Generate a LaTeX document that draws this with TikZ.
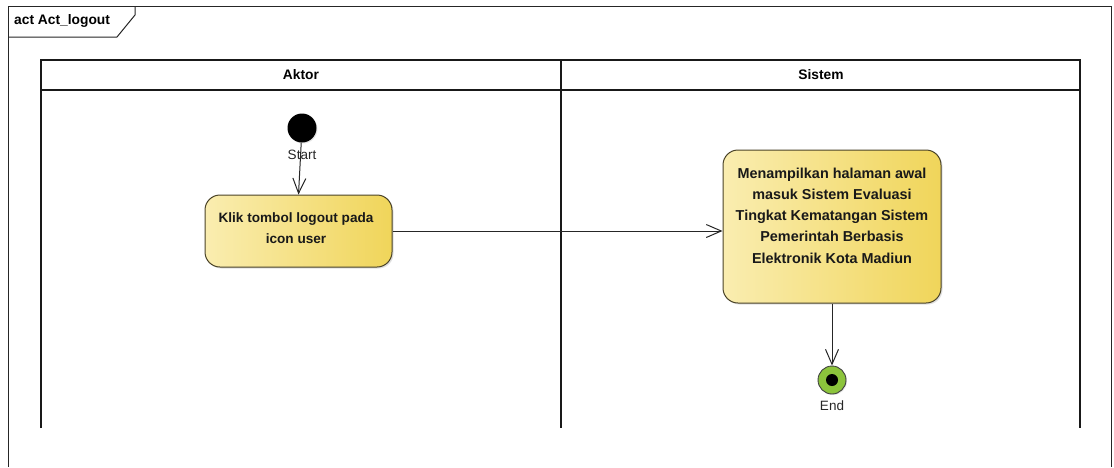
\documentclass[tikz,border=0pt]{standalone}
\usepackage{fontspec}
\setmainfont{Liberation Sans}
\usetikzlibrary{arrows.meta,shadows}
\definecolor{actlight}{HTML}{FAEDB0}
\definecolor{actdark}{HTML}{F0D55A}
\definecolor{actborder}{HTML}{4A4328}
\definecolor{endgreen}{HTML}{8CC43C}
\tikzset{
  frame/.style={draw=black!85, line width=1pt},
  lane/.style={draw=black!90, line width=1.4pt},
  action/.style={draw=actborder, line width=1pt, rounded corners=15pt,
    left color=actlight, right color=actdark,
    drop shadow={shadow xshift=1.5pt, shadow yshift=-1.5pt, opacity=0.25}},
  acttext/.style={font=\bfseries\fontsize{13.6}{21}\selectfont, align=center, text=black!90},
  flow/.style={draw=black!85, line width=1pt, -{Straight Barb[length=15pt,width=13pt,line width=1pt]}},
  lbl/.style={font=\fontsize{13.5}{15}\selectfont, text=black!85},
  hdr/.style={font=\bfseries\fontsize{13.8}{15}\selectfont}
}
\begin{document}
\begin{tikzpicture}[x=1pt,y=-1pt]
\useasboundingbox[fill=white] (0,0) rectangle (1114,467);

% diagram frame with its name tab
\draw[frame] (8,467) -- (8,6) -- (1111,6) -- (1111,467);
\draw[frame] (8,37) -- (117,37) -- (135,15) -- (135,6);
\node[anchor=west, font=\bfseries\fontsize{13.8}{15}\selectfont, inner sep=0pt] (title) at (14,21) {act Act\_logout};

% swimlanes
\draw[lane] (41,428) -- (41,60) -- (1080,60) -- (1080,428);
\draw[lane] (41,90) -- (1080,90);
\draw[lane] (561,60) -- (561,428);
\node[hdr] (aktor) at (301,75) {Aktor};
\node[hdr] (sistem) at (821,75) {Sistem};

% start node
\node[circle, fill=black, minimum size=29pt, inner sep=0pt,
  drop shadow={shadow xshift=1pt, shadow yshift=-1pt, opacity=0.2}] (start) at (302,128) {};
\node[lbl] (startlbl) at (302,155) {Start};

% actions
\node[action, minimum width=187pt, minimum height=72pt] (klik) at (298.5,231) {};
\node[acttext] (kliktext) at (296,228) {Klik tombol logout pada\\icon user};

\node[action, minimum width=218pt, minimum height=153pt] (tampil) at (832,226.5) {};
\node[acttext, font=\bfseries\fontsize{14.4}{21.2}\selectfont] (tampiltext) at (832,215.5)
  {Menampilkan halaman awal\\masuk Sistem Evaluasi\\Tingkat Kematangan Sistem\\Pemerintah Berbasis\\Elektronik Kota Madiun};

% final node
\node[circle, draw=black!75, line width=0.9pt, fill=endgreen, minimum size=28pt, inner sep=0pt,
  drop shadow={shadow xshift=1pt, shadow yshift=-1pt, opacity=0.2}] (end) at (832,380) {};
\node[circle, fill=black, minimum size=12pt, inner sep=0pt] (enddot) at (end) {};
\node[lbl] (endlbl) at (832,406) {End};

% control flows
\draw[flow] (start) -- (klik.north);
\draw[flow] (klik.east) -- (klik.east -| tampil.west);
\draw[flow] (tampil.south) -- (end.north);
\end{tikzpicture}
\end{document}
